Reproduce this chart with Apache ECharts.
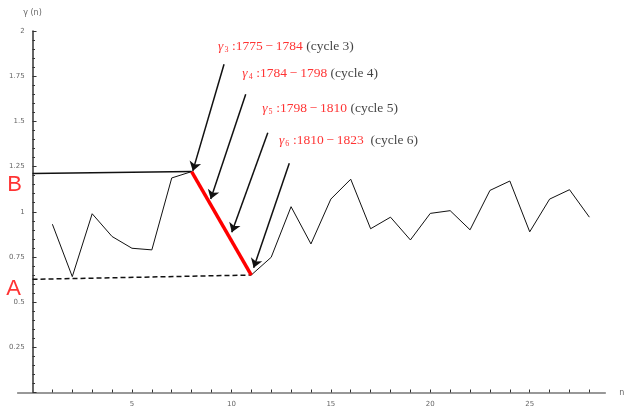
<!DOCTYPE html>
<html>
<head>
<meta charset="utf-8">
<style>
  html, body { margin: 0; padding: 0; background: #fff; }
  #chart { width: 625px; height: 408px; }
</style>
<script src="https://cdn.jsdelivr.net/npm/echarts@6/dist/echarts.min.js"></script>
</head>
<body>
<div id="chart"></div>
<script>
// gamma(n) for solar cycles n = 1..28
const cycleNumbers = [1, 2, 3, 4, 5, 6, 7, 8, 9, 10, 11, 12, 13, 14,
                      15, 16, 17, 18, 19, 20, 21, 22, 23, 24, 25, 26, 27, 28];
const gammaValues = [0.931, 0.641, 0.989, 0.863, 0.798, 0.789, 1.187, 1.222,
                     1.030, 0.841, 0.650, 0.748, 1.028, 0.822, 1.070, 1.180,
                     0.906, 0.970, 0.844, 0.991, 1.006, 0.900, 1.118, 1.170,
                     0.889, 1.070, 1.122, 0.970];

// reference levels: B (upper, solid) and A (lower, dashed), value at n = 0
const levelB = 1.211;
const levelA = 0.626;
const levelBEnd = 8;   // joins gamma at n = 8
const levelAEnd = 11;  // joins gamma at n = 11

// highlighted drop between cycle 8 and cycle 11
const dropStart = 8;
const dropEnd = 11;

// annotated cycles 3..6 with their start and end years
const annotatedCycles = [3, 4, 5, 6];
const cycleStartYears = ['1775', '1784', '1798', '1810'];
const cycleEndYears = ['1784', '1798', '1810', '1823'];

// axis ticks
const yTicks = [0.25, 0.5, 0.75, 1, 1.25, 1.5, 1.75, 2];
const xLabelTicks = [5, 10, 15, 20, 25];

// layout of the annotation labels and arrows, in data units
const labelAnchors = [[9.33, 1.917], [10.55, 1.766], [11.55, 1.572], [12.39, 1.397]];
const arrowTails = [[9.63, 1.816], [10.72, 1.650], [11.83, 1.437], [12.91, 1.268]];
const arrowHeads = [[8.06, 1.226], [8.96, 1.070], [10.02, 0.886], [11.12, 0.690]];
const letterAnchors = { B: [-0.905, 1.151], A: [-0.955, 0.574] };

const serif = '"Liberation Serif", "DejaVu Serif", serif';
const small = '"DejaVu Sans", sans-serif';

const gammaSeries = cycleNumbers.map((n, i) => [n, gammaValues[i]]);
const valueAt = n => gammaValues[cycleNumbers.indexOf(n)];

const annotationData = annotatedCycles.map((c, i) => ({
  value: labelAnchors[i],
  label: {
    formatter: '{g|γ}{s|' + c + '}{r|\u2009:' + cycleStartYears[i] + '\u2009\u2212\u2009' +
               cycleEndYears[i] + '}{k|' + (c === 6 ? '\u00a0\u00a0(cycle ' : ' (cycle ') + c + ')}'
  }
}));

const richStyles = {
  g: { fontFamily: serif, fontStyle: 'italic', fontSize: 13.5, color: '#ff0000' },
  s: { fontFamily: serif, fontSize: 8, color: '#ff0000', padding: [7, 1, 0, 1] },
  r: { fontFamily: serif, fontSize: 13.5, color: '#ff0000' },
  k: { fontFamily: serif, fontSize: 13.5, color: '#111' }
};

const chart = echarts.init(document.getElementById('chart'), null, { renderer: 'canvas' });

chart.setOption({
  animation: false,
  backgroundColor: '#fff',
  grid: {
    left: 17.6, right: 19.7, top: 31, bottom: 15.5,
    containLabel: false,
    outerBoundsMode: 'none'
  },
  xAxis: {
    type: 'value',
    min: -0.75,
    max: 28.8,
    name: 'n',
    nameLocation: 'end',
    nameGap: 14,
    nameTextStyle: { fontFamily: small, fontSize: 8, color: '#666' },
    axisLine: { onZero: true, lineStyle: { color: '#777', width: 1.5 } },
    axisTick: {
      show: true, inside: true, length: 3,
      customValues: cycleNumbers,
      lineStyle: { color: '#333', width: 1 }
    },
    axisLabel: {
      customValues: xLabelTicks,
      margin: 8,
      fontFamily: small, fontSize: 7, color: '#666'
    },
    splitLine: { show: false }
  },
  yAxis: {
    type: 'value',
    min: 0,
    max: 2,
    interval: 0.25,
    name: 'γ (n)',
    nameLocation: 'end',
    nameGap: 14,
    nameTextStyle: { fontFamily: small, fontSize: 8, color: '#666' },
    axisLine: { show: true, onZero: true, lineStyle: { color: '#333', width: 1.5 } },
    axisTick: { show: true, inside: true, length: 4, lineStyle: { color: '#333' } },
    minorTick: { show: true, splitNumber: 5, length: 2.5, lineStyle: { color: '#333' } },
    axisLabel: {
      // labels sit at the grid edge; pull them right next to the zero-based axis line
      margin: -7,
      fontFamily: small, fontSize: 7, color: '#666',
      formatter: v => (yTicks.indexOf(v) >= 0 ? String(v) : '')
    },
    splitLine: { show: false },
    minorSplitLine: { show: false }
  },
  series: [
    {
      name: 'gamma',
      type: 'line',
      data: gammaSeries,
      symbol: 'none',
      lineStyle: { color: '#111', width: 1 },
      z: 2
    },
    {
      name: 'level B',
      type: 'line',
      data: [[0, levelB], [levelBEnd, valueAt(levelBEnd)]],
      symbol: 'none',
      lineStyle: { color: '#111', width: 1.5 },
      z: 2
    },
    {
      name: 'level A',
      type: 'line',
      data: [[0, levelA], [levelAEnd, valueAt(levelAEnd)]],
      symbol: 'none',
      lineStyle: { color: '#111', width: 1.5, type: [5, 3] },
      z: 2
    },
    {
      name: 'drop',
      type: 'line',
      data: [[dropStart, valueAt(dropStart)], [dropEnd, valueAt(dropEnd)]],
      symbol: 'none',
      lineStyle: { color: '#ff0000', width: 3.5 },
      z: 3
    },
    {
      name: 'arrows',
      type: 'line',
      data: [],
      markLine: {
        silent: true,
        symbol: ['none', 'arrow'],
        symbolSize: 9,
        label: { show: false },
        itemStyle: { color: '#111' },
        lineStyle: { color: '#111', width: 1.5, type: 'solid' },
        data: arrowTails.map((t, i) => [{ coord: t }, { coord: arrowHeads[i] }])
      },
      z: 4
    },
    {
      name: 'cycle labels',
      type: 'scatter',
      data: annotationData,
      symbolSize: 0,
      clip: false,
      label: {
        show: true,
        position: 'right',
        distance: 0,
        rich: richStyles
      },
      z: 5
    },
    {
      name: 'level letters',
      type: 'scatter',
      data: [
        { value: letterAnchors.B, label: { formatter: 'B' } },
        { value: letterAnchors.A, label: { formatter: 'A' } }
      ],
      symbolSize: 0,
      clip: false,
      label: {
        show: true,
        position: 'inside',
        fontFamily: '"Liberation Sans", Arial, sans-serif',
        fontSize: 22,
        color: '#ff0000'
      },
      z: 5
    }
  ]
});
</script>
</body>
</html>
